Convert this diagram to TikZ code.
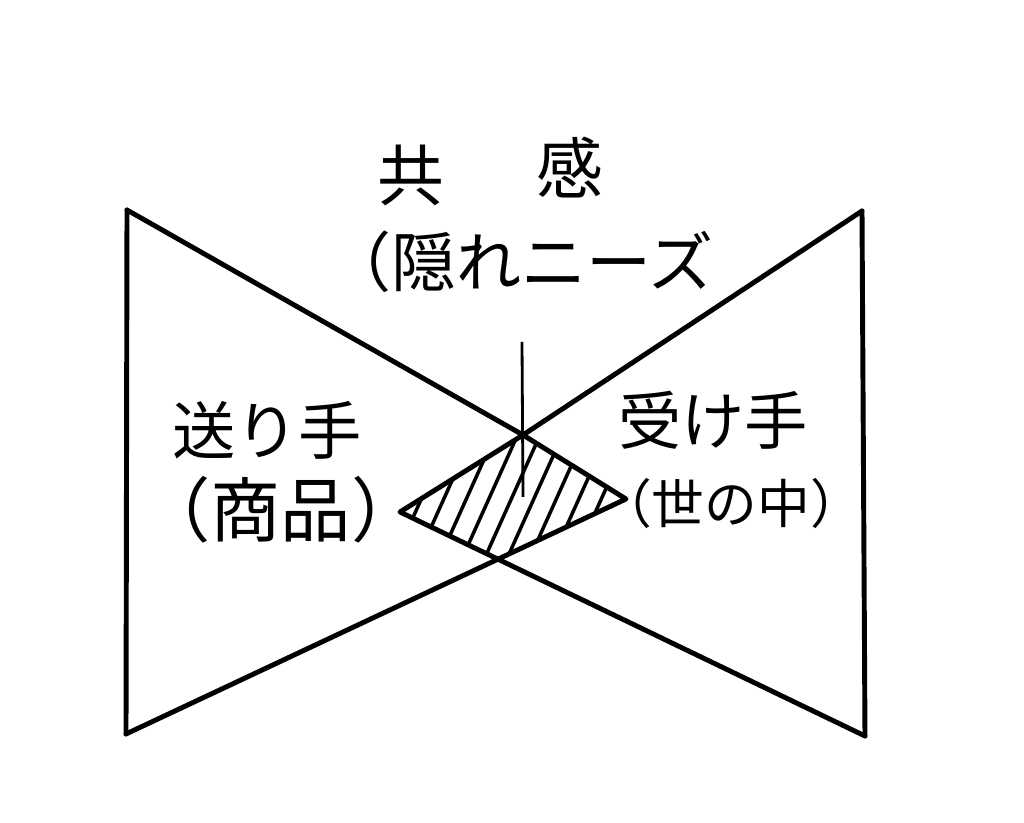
\documentclass[tikz,border=0pt]{standalone}
\usepackage{fontspec}
\newfontfamily\jpfont{Noto Sans CJK JP}

\begin{document}
\begin{tikzpicture}
			% Fix the page to the reference proportions
			\useasboundingbox (0,0) rectangle (20.48,16.46);
			
			% Corner and crossing points
			\coordinate (tl) at (2.54,12.26);
			\coordinate (tr) at (17.24,12.24);
			\coordinate (bl) at (2.52,1.78);
			\coordinate (br) at (17.30,1.74);
			\coordinate (top) at (10.46,7.76);
			\coordinate (lv) at (8.00,6.22);
			\coordinate (rv) at (12.52,6.48);
			\coordinate (bc) at (intersection of lv--br and rv--bl);
			\coordinate (stem) at (10.44,9.62);
			\coordinate (stemend) at (10.46,6.52);
			
			% Hatch the diamond in the middle
			\begin{scope}
				\clip (lv) -- (top) -- (rv) -- (bc) -- cycle;
				\foreach \x in {6.5,6.95,...,12.6}
					\draw[line width=2pt, line cap=round] (\x,5.2) -- ++(1.26,2.8);
			\end{scope}
			
			% Draw the two sides
			\draw[line width=2.8pt, line cap=round] (tl) -- (bl);
			\draw[line width=2.8pt, line cap=round] (tr) -- (br);
			
			% Draw the crossing lines
			\draw[line width=2.8pt, line cap=round, line join=round] (tl) -- (top) -- (rv) -- (bl);
			\draw[line width=2.8pt, line cap=round, line join=round] (tr) -- (top) -- (lv) -- (br);
			
			% Draw the stem
			\draw[line width=1.6pt] (stem) -- (stemend);
			
			% Labels
			\node[font=\jpfont\fontsize{38}{42}\selectfont] (kyo) at (8.22,12.95) {共};
			\node[font=\jpfont\fontsize{38}{42}\selectfont] (kan) at (11.4,13.1) {感};
			\node[font=\jpfont\fontsize{37}{41}\selectfont] (needs) at (10.4,11.22) {（隠れニーズ};
			\node[font=\jpfont\fontsize{36}{40}\selectfont] (sender) at (5.34,7.86) {送り手};
			\node[font=\jpfont\fontsize{40}{44}\selectfont] (goods) at (5.62,6.26) {（商品）};
			\node[font=\jpfont\fontsize{36}{40}\selectfont] (receiver) at (14.26,8.06) {受け手};
			\node[font=\jpfont\fontsize{30}{34}\selectfont] (world) at (14.62,6.4) {（世の中）};
		\end{tikzpicture}
\end{document}
